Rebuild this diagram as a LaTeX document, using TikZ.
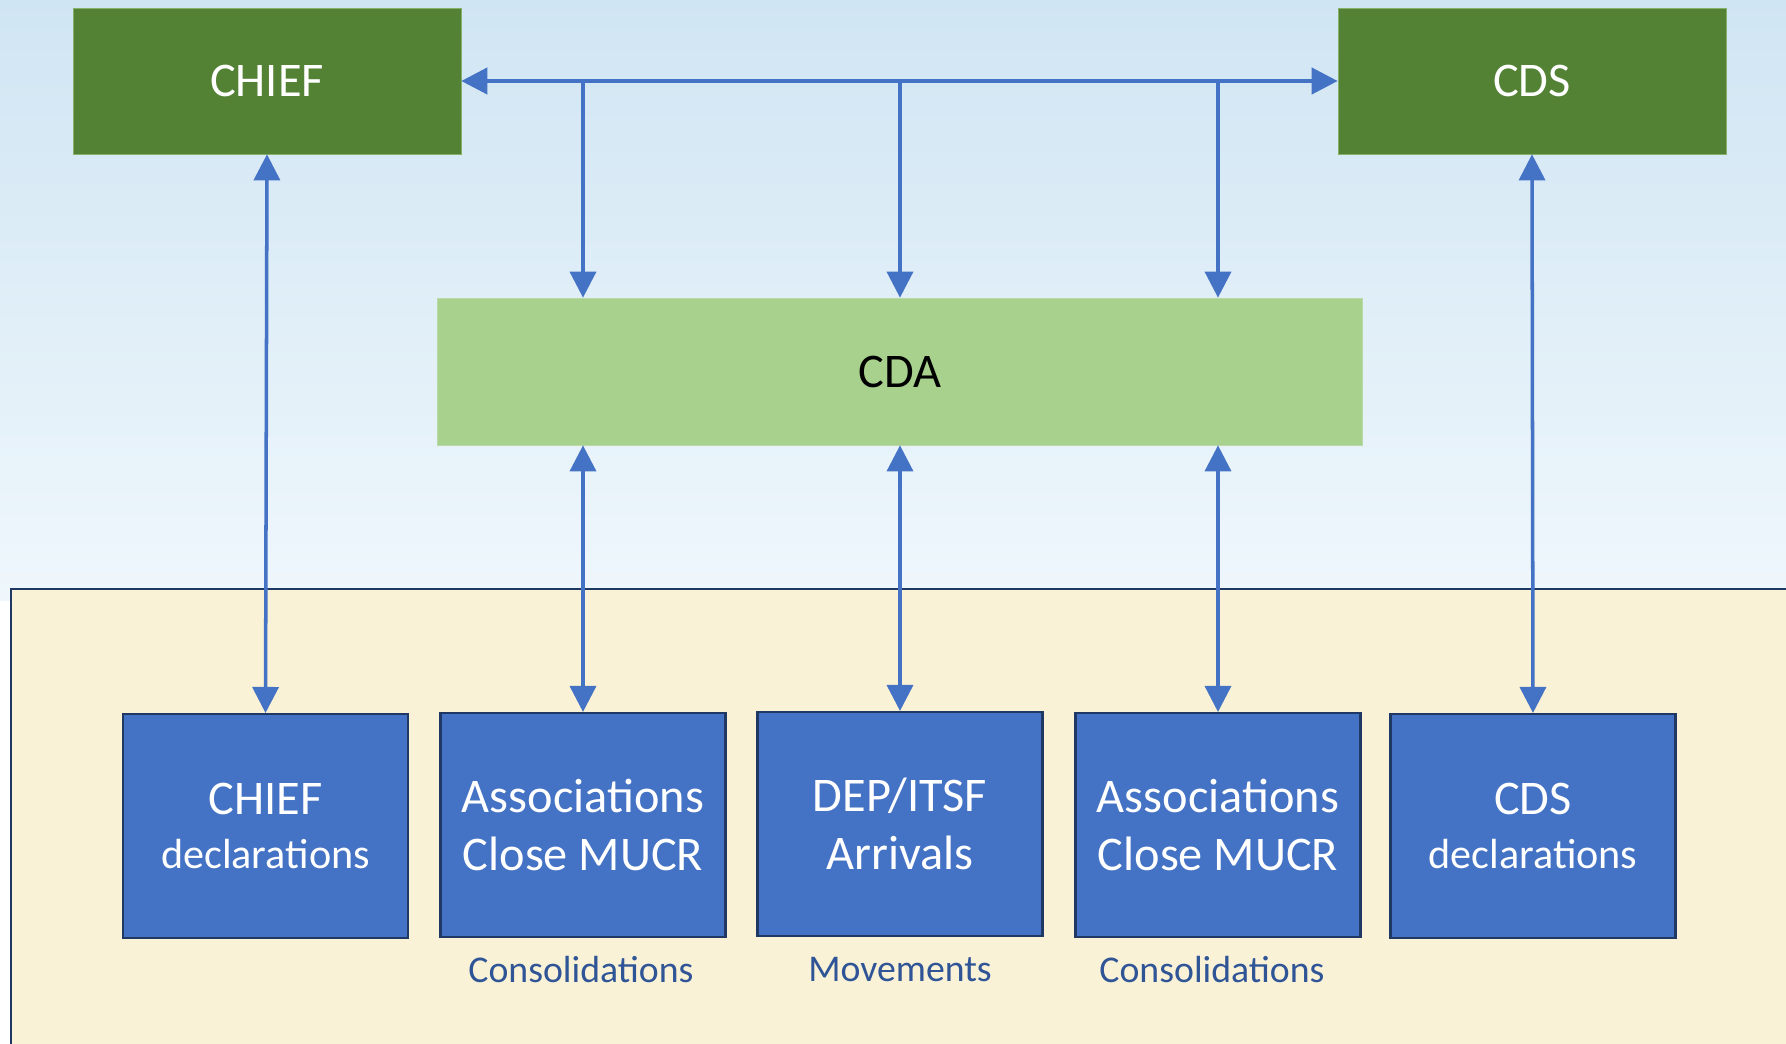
\documentclass[tikz,border=0pt]{standalone}
\usepackage{fontspec}
\setmainfont{Carlito}
\usepackage{xcolor}
\usepackage{tikz}
\usetikzlibrary{arrows.meta}
\definecolor{sysgreen}{HTML}{548235}
\definecolor{cdagreen}{HTML}{A9D18E}
\definecolor{appblue}{HTML}{4472C4}
\definecolor{navy}{HTML}{1F3864}
\definecolor{cream}{HTML}{FAF2D7}
\definecolor{labelblue}{HTML}{2F5597}
\definecolor{skytop}{HTML}{D0E5F3}
\definecolor{skylow}{HTML}{EFF7FC}

\begin{document}
\begin{tikzpicture}[x=0.02cm,y=-0.02cm,
 sysbox/.style={fill=sysgreen, draw=cdagreen!60!sysgreen, line width=0.4pt, text=white, minimum width=7.76cm, minimum height=2.92cm, inner sep=0pt, font=\fontsize{27.5}{32}\selectfont},
 cdabox/.style={fill=cdagreen, draw=cdagreen!80!white, line width=0.4pt, text=black, minimum width=18.5cm, minimum height=2.94cm, inner sep=0pt, font=\fontsize{27.5}{32}\selectfont},
 appbox/.style={fill=appblue, draw=navy, line width=1.2pt, text=white, minimum width=5.7cm, minimum height=4.48cm, inner sep=0pt, align=center, font=\fontsize{27.5}{33}\selectfont},
 note/.style={text=labelblue, inner sep=0pt, font=\fontsize{21.5}{25}\selectfont},
 link/.style={draw=appblue, line width=2pt, -{Triangle[length=0.52cm,width=0.52cm]}},
 both/.style={link, {Triangle[length=0.52cm,width=0.52cm]}-{Triangle[length=0.52cm,width=0.52cm]}}]
\useasboundingbox (0,0) rectangle (1786,1044);
\clip (0,0) rectangle (1786,1044);
\shade[top color=skytop, bottom color=skylow] (0,0) rectangle (1786,600);
\draw[navy, line width=1.2pt, fill=cream] (11,589) rectangle (1820,1080);

\node[sysbox] (chief) at (267,81) {CHIEF};
\node[sysbox] (cds) at (1532,81) {CDS};
\node[cdabox] (cda) at (900,371.5) {CDA};

\node[appbox] (chiefdecl) at (265.5,826) {CHIEF\\[-2pt]{\fontsize{24}{28}\selectfont declarations}};
\node[appbox] (assocA) at (583,825) {Associations\\Close MUCR};
\node[appbox] (dep) at (900,824) {DEP/ITSF\\Arrivals};
\node[appbox] (assocB) at (1218,825) {Associations\\Close MUCR};
\node[appbox] (cdsdecl) at (1533,826) {CDS\\[-2pt]{\fontsize{24}{28}\selectfont declarations}};

\node[note] (consA) at (581,970) {Consolidations};
\node[note] (moves) at (900,970) {Movements};
\node[note] (consB) at (1212,970) {Consolidations};

\draw[both, line width=2.4pt] (chief) -- (cds);
\draw[link] (chief.east -| assocA) -- (assocA |- cda.north);
\draw[link] (chief.east -| dep) -- (dep |- cda.north);
\draw[link] (chief.east -| assocB) -- (assocB |- cda.north);

\draw[both] (chief.south) -- (chiefdecl.north);
\draw[both] (cds.south) -- (cdsdecl.north);
\draw[both] (cda.south -| assocA) -- (assocA.north);
\draw[both] (cda.south -| dep) -- (dep.north);
\draw[both] (cda.south -| assocB) -- (assocB.north);
\end{tikzpicture}
\end{document}
